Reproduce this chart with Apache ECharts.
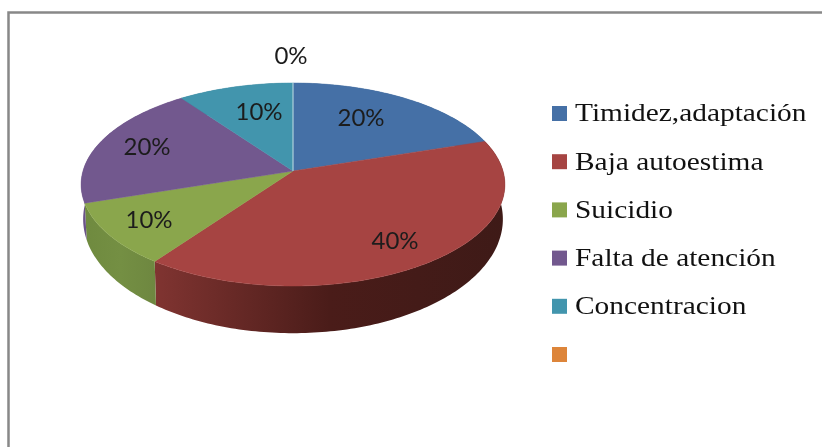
<!DOCTYPE html>
<html>
<head>
<meta charset="utf-8">
<title>Pie</title>
<style>
  html, body { margin: 0; padding: 0; background: #fff; }
  #chart { width: 822px; height: 447px; }
</style>
<script src="https://cdn.jsdelivr.net/npm/echarts@6/dist/echarts.min.js"></script>
</head>
<body>
<div id="chart"></div>
<script>
const categories = ['Timidez,adaptación', 'Baja autoestima', 'Suicidio', 'Falta de atención', 'Concentracion', ''];
const values = [20, 40, 10, 20, 10, 0];

const sliceColors = ['#4570a6', '#a64442', '#8aa64c', '#72588e', '#4295ad', '#dd853a'];
const wallStops = [
  ['#3a5a85', '#3a5a85'],
  ['#803431', '#4a1c19', '#3e1a17'],
  ['#6f8a3f', '#748f43', '#6e8740'],
  ['#6a5288', '#6a5288'],
  ['#34778a', '#34778a'],
  ['#b06a2e', '#b06a2e']
];
// where the percent labels sit, in page pixels
const labelSpots = [[361, 118], [395, 241], [149, 220], [147, 147], [259, 112], [291, 56]];

// perspective ellipse of the top face and the bottom rim
const apexX = 293, apexY = 171;
const topA = 210, topB = 99.7;
const rimA = 208, rimB = 112, rimY = 204;
const tilt = 0.133;

// legend rows: the source text is stretched sideways
const keyX = 552, keyTop = 106, keySize = 15, keyPitch = 48.2;
const keyTextX = 575, keyStretch = 1.13, keyTextDrop = 1;

const total = values.reduce((a, b) => a + b, 0);

function topPoint(deg, r) {
  const t = deg * Math.PI / 180;
  const u = Math.sin(t) * r, v = Math.cos(t) * r;
  const d = 1 + tilt * v;
  return [apexX + topA * u / d, apexY - topB * v / d];
}

function rimPoint(deg) {
  const t = deg * Math.PI / 180;
  const u = Math.sin(t), v = Math.cos(t);
  const d = 1 + tilt * v;
  return [apexX + rimA * u / d, rimY - rimB * v / d];
}

function renderSlice(params, api) {
  const i = params.seriesIndex;
  const value = api.value(0);
  const before = values.slice(0, i).reduce((a, b) => a + b, 0);
  const start = before / total * 360;
  const end = (before + value) / total * 360;

  const edge = [];
  const bottom = [];
  const steps = Math.max(1, Math.ceil(end - start));
  for (let s = 0; s <= steps; s++) {
    const deg = start + (end - start) * s / steps;
    edge.push(topPoint(deg, 1));
    bottom.push(rimPoint(deg));
  }

  const stops = wallStops[i].map((c, k) => ({ offset: k / (wallStops[i].length - 1), color: c }));
  const children = [];
  if (value > 0) {
    children.push({
      type: 'polygon',
      z2: 1,
      shape: { points: edge.concat(bottom.slice().reverse()) },
      style: { fill: { type: 'linear', x: 0, y: 0, x2: 1, y2: 0, colorStops: stops } }
    });
    children.push({
      type: 'polygon',
      z2: 2,
      shape: { points: [[apexX, apexY]].concat(edge) },
      style: { fill: sliceColors[i], stroke: sliceColors[i], lineWidth: 0.5 }
    });
  } else {
    // zero slice only shows as a pale hairline
    children.push({
      type: 'line',
      z2: 3,
      shape: { x1: apexX, y1: apexY, x2: edge[0][0], y2: edge[0][1] },
      style: { stroke: '#c4dbe3', lineWidth: 1 }
    });
  }
  children.push({
    type: 'text',
    z2: 4,
    style: {
      text: (value / total * 100) + '%',
      x: labelSpots[i][0],
      y: labelSpots[i][1],
      align: 'center',
      verticalAlign: 'middle',
      font: '24px Lato',
      fill: '#1c1c1c'
    }
  });

  // legend row
  const rowTop = keyTop + keyPitch * i;
  children.push({
    type: 'rect',
    z2: 4,
    shape: { x: keyX, y: rowTop, width: keySize, height: keySize },
    style: { fill: sliceColors[i] }
  });
  if (categories[i]) {
    children.push({
      type: 'text',
      z2: 4,
      x: keyTextX,
      y: rowTop + keySize / 2 + keyTextDrop,
      scaleX: keyStretch,
      style: {
        text: categories[i],
        x: 0,
        y: 0,
        align: 'left',
        verticalAlign: 'middle',
        font: '26px "Liberation Serif"',
        fill: '#111'
      }
    });
  }
  return { type: 'group', children: children };
}

const chart = echarts.init(document.getElementById('chart'), null, { renderer: 'canvas' });

chart.setOption({
  animation: false,
  color: sliceColors,
  graphic: [{
    type: 'rect',
    silent: true,
    shape: { x: 8.5, y: 12.5, width: 900, height: 600 },
    style: { fill: 'none', stroke: '#888', lineWidth: 2.5 }
  }],
  series: categories.map((name, i) => ({
    type: 'custom',
    name: name,
    coordinateSystem: 'none',
    silent: true,
    itemStyle: { color: sliceColors[i] },
    renderItem: renderSlice,
    data: [[values[i]]]
  }))
});
</script>
</body>
</html>
